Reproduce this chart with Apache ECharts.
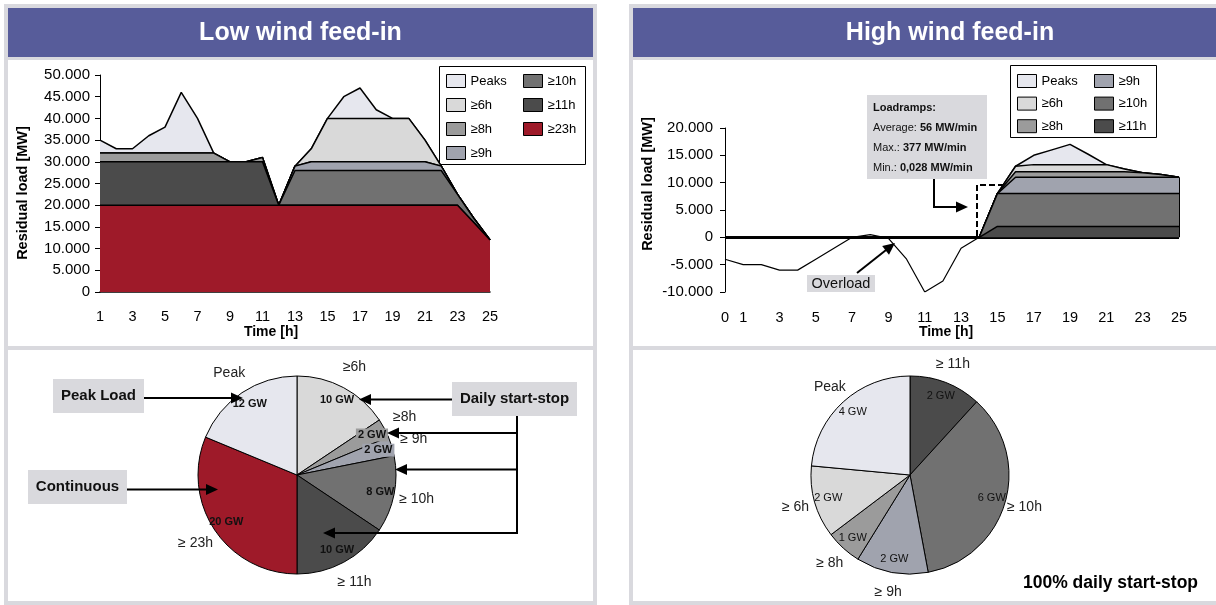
<!DOCTYPE html>
<html>
<head>
<meta charset="utf-8">
<script src="https://cdn.jsdelivr.net/npm/echarts@6/dist/echarts.min.js"></script>
<style>
  html, body { margin: 0; padding: 0; background: #fff; }
  #chart { width: 1216px; height: 605px; }
</style>
</head>
<body>
<div id="chart"></div>
<script>
// ---- Low wind feed-in: residual load per hour, stacked by operating duration (MW)
const lowHours = ['1','2','3','4','5','6','7','8','9','10','11','12','13','14','15','16','17','18','19','20','21','22','23','24','25'];
const low23h = [20000,20000,20000,20000,20000, 20000,20000,20000,20000,20000, 20000,20000,20000,20000,20000, 20000,20000,20000,20000,20000, 20000,20000,20000,16000,12000];
const low11h = [10000,10000,10000,10000,10000, 10000,10000,10000,10000,10000, 10000,0,0,0,0, 0,0,0,0,0, 0,0,0,0,0];
const low10h = [0,0,0,0,0, 0,0,0,0,0, 0,0,8000,8000,8000, 8000,8000,8000,8000,8000, 8000,8000,2500,1000,0];
const low9h  = [0,0,0,0,0, 0,0,0,0,0, 0,0,1000,2000,2000, 2000,2000,2000,2000,2000, 2000,1000,0,0,0];
const low8h  = [2000,2000,2000,2000,2000, 2000,2000,2000,0,0, 1000,0,0,0,0, 0,0,0,0,0, 0,0,0,0,0];
const low6h  = [0,0,0,0,0, 0,0,0,0,0, 0,0,0,3000,10000, 10000,10000,10000,10000,10000, 5000,0,0,0,0];
const lowPeaks = [3000,1000,1000,4000,6000, 14000,8000,0,0,0, 0,0,0,0,0, 5000,7000,2000,0,0, 0,0,0,0,0];

// ---- High wind feed-in: residual load per hour (MW)
const highHours = ['0','1','2','3','4','5','6','7','8','9','10','11','12','13','14','15','16','17','18','19','20','21','22','23','24','25'];
const high11h = [0,0,0,0,0, 0,0,0,0,0, 0,0,0,0,0, 2000,2000,2000,2000,2000, 2000,2000,2000,2000,2000, 2000];
const high10h = [0,0,0,0,0, 0,0,0,0,0, 0,0,0,0,0, 6000,6000,6000,6000,6000, 6000,6000,6000,6000,6000, 6000];
const high9h  = [0,0,0,0,0, 0,0,0,0,0, 0,0,0,0,0, 0,3000,3000,3000,3000, 3000,3000,3000,3000,3000, 3000];
const high8h  = [0,0,0,0,0, 0,0,0,0,0, 0,0,0,0,0, 0,1000,1000,1000,1000, 1000,1000,1000,800,500, 0];
const high6h  = [0,0,0,0,0, 0,0,0,0,0, 0,0,0,0,0, 0,1000,1300,1300,1300, 1300,1300,500,0,0, 0];
const highPeaks = [0,0,0,0,0, 0,0,0,0,0, 0,0,0,0,0, 0,0,1700,2700,3700, 1900,0,0,0,0, 0];
const highResidual = [-4000,-5000,-5000,-6000,-6000, -4000,-2000,0,500,-200, -4000,-10000,-8000,-2000,0,
  null,null,null,null,null, null,null,null,null,null, null];

// ---- Installed capacity by operating duration (GW)
const lowPieKeys   = ['≥6h','≥8h','≥9h','≥10h','≥11h','≥23h','Peaks'];
const lowPieLabels = ['≥6h','≥8h','≥ 9h','≥ 10h','≥ 11h','≥ 23h','Peak'];
const lowPieValues = [10, 2, 2, 8, 10, 20, 12];
const highPieKeys   = ['≥11h','≥10h','≥9h','≥8h','≥6h','Peaks'];
const highPieLabels = ['≥ 11h','≥ 10h','≥ 9h','≥ 8h','≥ 6h','Peak'];
const highPieValues = [2, 6, 2, 1, 2, 4];

// ---- Styling
const FONT = '"Liberation Sans", Arial, Helvetica, sans-serif';
const COLORS = {
  'Peaks': '#e6e7ee', '≥6h': '#d9d9d9', '≥8h': '#9b9b9b', '≥9h': '#a0a3ae',
  '≥10h': '#717171', '≥11h': '#4b4b4b', '≥23h': '#9e1a29'
};
const PANEL_BORDER = '#d9d9de';
const TITLE_FILL = '#575c9a';
const CALLOUT_FILL = '#d9d9dd';

const fmtThousands = v => (v < 0 ? '-' : '') + String(Math.abs(v)).replace(/\B(?=(\d{3})+(?!\d))/g, '.');

function areaSeries(name, data, stack, axis, z) {
  return {
    type: 'line', name, data, stack, xAxisIndex: axis, yAxisIndex: axis, z,
    symbol: 'none', silent: true, animation: false,
    lineStyle: { color: '#000', width: 1.5 },
    areaStyle: { color: COLORS[name], opacity: 1 },
    emphasis: { disabled: true }
  };
}

const lowLayers = [['≥23h', low23h], ['≥11h', low11h], ['≥10h', low10h], ['≥9h', low9h], ['≥8h', low8h], ['≥6h', low6h], ['Peaks', lowPeaks]];
const highLayers = [['≥11h', high11h], ['≥10h', high10h], ['≥9h', high9h], ['≥8h', high8h], ['≥6h', high6h], ['Peaks', highPeaks]];

// lower layers get higher z so their boundary lines stay fully visible
const series = [];
lowLayers.forEach(([n, d], i) => series.push(areaSeries(n, d, 'low', 0, 20 - i)));
highLayers.forEach(([n, d], i) => series.push(areaSeries(n, d, 'high', 1, 20 - i)));

// zero line and right edge of the high wind stack
const lastIdx = highHours.length - 1;
const highTopLast = highLayers.reduce((s, [, d]) => s + d[lastIdx], 0);
series[lowLayers.length].markLine = {
  silent: true, symbol: 'none', animation: false,
  label: { show: false },
  lineStyle: { color: '#000', width: 2, type: 'solid' },
  data: [
    { yAxis: 0 },
    [{ coord: [highHours[lastIdx], 0] }, { coord: [highHours[lastIdx], highTopLast] }]
  ]
};

series.push({
  type: 'line', name: 'Residual load', data: highResidual, xAxisIndex: 1, yAxisIndex: 1,
  z: 30, symbol: 'none', silent: true, connectNulls: false,
  lineStyle: { color: '#000', width: 1.2 }, emphasis: { disabled: true }
});

function pieSet(keys, labels, values, center, boldInner, outerRing) {
  const total = values.reduce((a, b) => a + b, 0);
  const base = { type: 'pie', center, startAngle: 90, clockwise: true, silent: true,
    animation: false, emphasis: { disabled: true }, labelLine: { show: false } };
  return [
    Object.assign({}, base, {
      radius: 99, z: 5,
      data: values.map((v, i) => ({ value: v, name: labels[i], itemStyle: { color: COLORS[keys[i]] } })),
      itemStyle: { borderColor: '#000', borderWidth: 1 },
      label: { show: false }
    }),
    // value labels inside each slice
    Object.assign({}, base, {
      radius: [64, 100], z: 6,
      data: values.map((v, i) => {
        const item = { value: v, name: labels[i] };
        if (v / total < 0.05) item.label = { backgroundColor: COLORS[keys[i]], padding: [1, 2] };
        return item;
      }),
      itemStyle: { color: 'transparent', borderWidth: 0 },
      label: { show: true, position: 'inside', formatter: p => p.value + ' GW',
        fontSize: 11, fontWeight: boldInner ? 'bold' : 'normal', color: '#111', fontFamily: FONT }
    }),
    // duration labels around the pie
    Object.assign({}, base, {
      radius: [100, outerRing], z: 6,
      data: values.map((v, i) => ({ value: v, name: labels[i] })),
      itemStyle: { color: 'transparent', borderWidth: 0 },
      label: { show: true, position: 'inside', formatter: '{b}', fontSize: 14,
        color: '#222', fontFamily: FONT }
    })
  ];
}
series.push(...pieSet(lowPieKeys, lowPieLabels, lowPieValues, [297, 475], true, 138));
series.push(...pieSet(highPieKeys, highPieLabels, highPieValues, [910, 475], false, 132));

function legendBlock(names, left, top, gap) {
  return {
    orient: 'vertical', left, top, itemGap: gap, itemWidth: 19, itemHeight: 13, padding: 0,
    icon: 'rect', selectedMode: false,
    data: names.map(n => ({ name: n, itemStyle: { color: COLORS[n], borderColor: '#000', borderWidth: 1 } })),
    textStyle: { fontSize: 13, color: '#000', fontFamily: FONT, lineHeight: 13 }
  };
}

// ---- Annotation helpers
function arrow(x1, y1, x2, y2, head = 12, half = 5.5) {
  const dx = x2 - x1, dy = y2 - y1, len = Math.hypot(dx, dy);
  const ux = dx / len, uy = dy / len;
  const bx = x2 - ux * head, by = y2 - uy * head;
  return [
    { type: 'line', z: 60, shape: { x1, y1, x2: bx + ux, y2: by + uy }, style: { stroke: '#000', lineWidth: 2 } },
    { type: 'polygon', z: 60, shape: { points: [[x2, y2], [bx - uy * half, by + ux * half], [bx + uy * half, by - ux * half]] },
      style: { fill: '#000' } }
  ];
}
function rect(x, y, w, h, fill, z = 0) {
  return { type: 'rect', z, shape: { x, y, width: w, height: h }, style: { fill } };
}
function text(str, x, y, opts = {}) {
  return Object.assign({ type: 'text', z: 60, x, y, style: Object.assign({
    text: str, font: `${opts.weight || 'normal'} ${opts.size || 14}px ${FONT}`,
    fill: opts.color || '#111', align: opts.align || 'center', verticalAlign: 'middle'
  }, opts.style || {}) }, opts.el || {});
}

const graphics = [
  // panels
  rect(4, 4, 593, 601, PANEL_BORDER), rect(8, 8, 585, 49, TITLE_FILL),
  rect(8, 60, 585, 286, '#fff'), rect(8, 350, 585, 251, '#fff'),
  rect(629, 4, 600, 601, PANEL_BORDER), rect(633, 8, 600, 49, TITLE_FILL),
  rect(633, 60, 600, 286, '#fff'), rect(633, 350, 600, 251, '#fff'),
  text('Low wind feed-in', 300.5, 33, { weight: 'bold', size: 25, color: '#fff' }),
  text('High wind feed-in', 950, 33, { weight: 'bold', size: 25, color: '#fff' }),
  // axis titles
  text('Time [h]', 271, 332, { weight: 'bold', size: 14, color: '#000' }),
  text('Time [h]', 946, 332, { weight: 'bold', size: 14, color: '#000' }),
  text('Residual load [MW]', 23, 193, { weight: 'bold', size: 14.5, color: '#000', el: { rotation: Math.PI / 2 } }),
  text('Residual load [MW]', 648, 184, { weight: 'bold', size: 14.5, color: '#000', el: { rotation: Math.PI / 2 } }),
  // legend frames
  { type: 'rect', z: 1, shape: { x: 439.5, y: 66.5, width: 146, height: 98 }, style: { fill: '#fff', stroke: '#000', lineWidth: 1 } },
  { type: 'rect', z: 1, shape: { x: 1010.5, y: 65.5, width: 146, height: 72 }, style: { fill: '#fff', stroke: '#000', lineWidth: 1 } },
  // load ramp note
  rect(867, 95, 120, 84, CALLOUT_FILL, 50),
  { type: 'text', z: 60, x: 873, y: 98, style: {
      text: '{h|Loadramps:}\n{n|Average: }{b|56 MW/min}\n{n|Max.: }{b|377 MW/min}\n{n|Min.: }{b|0,028 MW/min}',
      align: 'left', verticalAlign: 'top',
      rich: {
        h: { fontSize: 11, fontWeight: 'bold', fontFamily: FONT, fill: '#111', lineHeight: 20 },
        n: { fontSize: 11, fontFamily: FONT, fill: '#111', lineHeight: 20 },
        b: { fontSize: 11, fontWeight: 'bold', fontFamily: FONT, fill: '#111', lineHeight: 20 }
      } } },
  { type: 'line', z: 60, shape: { x1: 934, y1: 179, x2: 934, y2: 208 }, style: { stroke: '#000', lineWidth: 2 } },
  ...arrow(933, 207, 968, 207),
  { type: 'polyline', z: 60, shape: { points: [[977, 236], [977, 185], [1003, 185]] },
    style: { stroke: '#000', lineWidth: 2, lineDash: [6, 3], fill: null } },
  // overload note
  rect(807, 275, 68, 17, CALLOUT_FILL, 50),
  text('Overload', 841, 284, { size: 14.5, color: '#111' }),
  ...arrow(857, 273, 895, 243),
  // capacity callouts
  rect(53, 379, 91, 34, CALLOUT_FILL, 50),
  text('Peak Load', 98.5, 396, { weight: 'bold', size: 15 }),
  ...arrow(144, 398, 243, 398),
  rect(28, 470, 99, 34, CALLOUT_FILL, 50),
  text('Continuous', 77.5, 487, { weight: 'bold', size: 15 }),
  ...arrow(127, 489.5, 218, 489.5),
  rect(452, 382, 125, 34, CALLOUT_FILL, 50),
  text('Daily start-stop', 514.5, 399, { weight: 'bold', size: 15 }),
  ...arrow(452, 399.5, 359, 399.5),
  { type: 'line', z: 60, shape: { x1: 517, y1: 416, x2: 517, y2: 534 }, style: { stroke: '#000', lineWidth: 2 } },
  ...arrow(518, 433, 387, 433),
  ...arrow(518, 469.5, 395, 469.5),
  ...arrow(518, 533, 323, 533),
  text('100% daily start-stop', 1023, 583, { weight: 'bold', size: 17.5, align: 'left', color: '#000' })
];

const yAxisCommon = {
  type: 'value', interval: 5000, splitLine: { show: false },
  axisLine: { show: true, lineStyle: { color: '#000', width: 1 } },
  axisTick: { show: true, length: 5, lineStyle: { color: '#000' } },
  axisLabel: { formatter: fmtThousands, fontSize: 15, color: '#000', fontFamily: FONT }
};

const option = {
  animation: false,
  backgroundColor: '#fff',
  textStyle: { fontFamily: FONT },
  graphic: { elements: graphics },
  legend: [
    legendBlock(['Peaks', '≥6h', '≥8h', '≥9h'], 446, 74, 10),
    legendBlock(['≥10h', '≥11h', '≥23h'], 523, 74, 10),
    legendBlock(['Peaks', '≥6h', '≥8h'], 1017, 74, 8.6),
    legendBlock(['≥9h', '≥10h', '≥11h'], 1094, 74, 8.6)
  ],
  grid: [
    { left: 100, top: 75, width: 390, height: 217, containLabel: false, outerBoundsMode: 'none' },
    { left: 725, top: 128, width: 454, height: 164, containLabel: false, outerBoundsMode: 'none' }
  ],
  xAxis: [
    { type: 'category', gridIndex: 0, data: lowHours, boundaryGap: false,
      axisLine: { show: true, lineStyle: { color: '#000', width: 1.5 } }, axisTick: { show: false },
      axisLabel: { interval: 1, margin: 17, fontSize: 14.5, color: '#000', fontFamily: FONT },
      splitLine: { show: false } },
    { type: 'category', gridIndex: 1, data: highHours, boundaryGap: false,
      axisLine: { show: false, onZero: false }, axisTick: { show: false },
      axisLabel: { interval: i => i === 0 || i % 2 === 1, margin: 18, fontSize: 14.5, color: '#000', fontFamily: FONT },
      splitLine: { show: false } }
  ],
  yAxis: [
    Object.assign({}, yAxisCommon, { gridIndex: 0, min: 0, max: 50000,
      axisLabel: Object.assign({}, yAxisCommon.axisLabel, { margin: 10 }) }),
    Object.assign({}, yAxisCommon, { gridIndex: 1, min: -10000, max: 20000,
      axisLabel: Object.assign({}, yAxisCommon.axisLabel, { margin: 12 }) })
  ],
  series
};

const chart = echarts.init(document.getElementById('chart'), null, { renderer: 'canvas' });
chart.setOption(option);
</script>
</body>
</html>
